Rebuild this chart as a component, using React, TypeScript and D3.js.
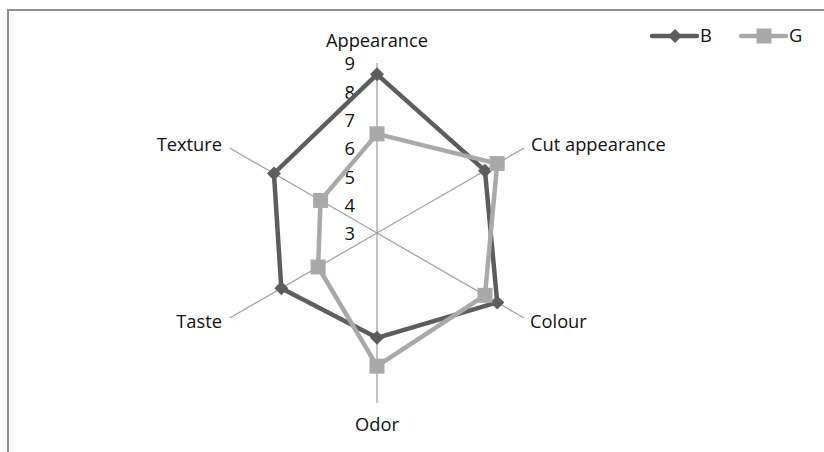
import React from "react";
import * as d3 from "d3";

const categories = ["Appearance", "Cut appearance", "Colour", "Odor", "Taste", "Texture"];
const seriesB = [8.6, 7.4, 7.9, 6.7, 6.9, 7.2];
const seriesG = [6.5, 7.9, 7.4, 7.7, 5.4, 5.3];
const ticks = [3, 4, 5, 6, 7, 8, 9];
const seriesNames = ["B", "G"];

const W = 824, H = 452;
const cx = 377, cy = 233, R = 170;
const FONT = "'Open Sans', Lato, sans-serif";
const FS = 18.3;

export default function App() {
  const r = d3.scaleLinear().domain([3, 9]).range([0, R]);
  const angle = (i: number) => (i * 2 * Math.PI) / categories.length;
  const pt = (i: number, v: number): [number, number] => {
    const a = angle(i);
    return [cx + r(v) * Math.sin(a), cy - r(v) * Math.cos(a)];
  };
  const line = d3.line<[number, number]>().curve(d3.curveLinearClosed);
  const series = [
    { name: seriesNames[0], vals: seriesB, color: "#5d5d5d", marker: "diamond" },
    { name: seriesNames[1], vals: seriesG, color: "#a9a9a9", marker: "square" },
  ];
  const labelPos = [
    { dx: 0, dy: -192, anchor: "middle" },
    { dx: 154, dy: -88, anchor: "start" },
    { dx: 153, dy: 89, anchor: "start" },
    { dx: 0, dy: 192, anchor: "middle" },
    { dx: -155, dy: 89, anchor: "end" },
    { dx: -155, dy: -88, anchor: "end" },
  ];
  const marker = (kind: string, x: number, y: number, color: string, key: string) =>
    kind === "diamond" ? (
      <path key={key} d={`M${x},${y - 7}L${x + 7},${y}L${x},${y + 7}L${x - 7},${y}Z`} fill={color} />
    ) : (
      <rect key={key} x={x - 7.5} y={y - 7.5} width={15} height={15} fill={color} />
    );
  return (
    <svg width={W} height={H} style={{ position: "absolute", left: 0, top: 0 }} fontFamily={FONT}>
      <rect x={0} y={0} width={W} height={H} fill="#fff" />
      <path d={`M8,${H + 5}V10H${W + 5}`} fill="none" stroke="#8f8f8f" strokeWidth={2} />
      {categories.map((c, i) => {
        const [x, y] = pt(i, 9);
        return <line key={c} x1={cx} y1={cy} x2={x} y2={y} stroke="#a3a3a3" strokeWidth={1.3} />;
      })}
      {ticks.map((t) => (
        <text key={t} x={355} y={cy - r(t) + 1} dy="0.35em" textAnchor="end" fontSize={FS} fill="#111">
          {t}
        </text>
      ))}
      {categories.map((c, i) => (
        <text key={c} x={cx + labelPos[i].dx} y={cy + labelPos[i].dy} dy="0.35em" textAnchor={labelPos[i].anchor as any} fontSize={FS} fill="#111">
          {c}
        </text>
      ))}
      {series.map((s) => {
        const pts = s.vals.map((v, i) => pt(i, v));
        return (
          <g key={s.name}>
            <path d={line(pts) || ""} fill="none" stroke={s.color} strokeWidth={4.5} strokeLinejoin="round" />
            {pts.map((p, i) => marker(s.marker, p[0], p[1], s.color, s.name + i))}
          </g>
        );
      })}
      {series.map((s, k) => {
        const x0 = 652 + k * 89;
        const y0 = 36;
        return (
          <g key={"lg" + s.name}>
            <line x1={x0} y1={y0} x2={x0 + 45} y2={y0} stroke={s.color} strokeWidth={4.5} strokeLinecap="round" />
            {marker(s.marker, x0 + 23, y0, s.color, "lm" + k)}
            <text x={x0 + 48} y={y0} dy="0.35em" fontSize={FS} fill="#111">
              {s.name}
            </text>
          </g>
        );
      })}
    </svg>
  );
}
